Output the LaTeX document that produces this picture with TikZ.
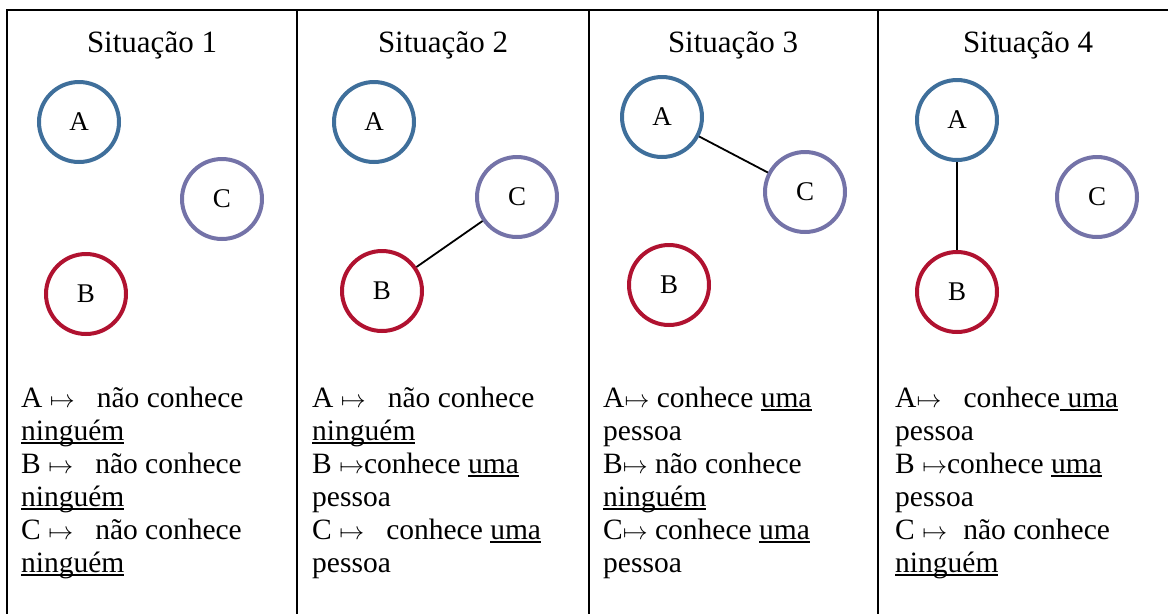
\documentclass[tikz,border=0pt]{standalone}
\usepackage{fontspec}
\setmainfont{Liberation Serif}
\usepackage{amsmath}
\usetikzlibrary{positioning}
\definecolor{azul}{RGB}{63,111,155}
\definecolor{lilas}{RGB}{116,115,168}
\definecolor{vermelho}{RGB}{176,18,48}
\newcommand{\vao}{\hspace{0.75em}}
% sublinhado rente a linha de base, como no Word
\newcommand{\sublinha}[1]{\setbox0\hbox{#1}\rlap{\rule[-4.3pt]{\wd0}{2pt}}\box0}

\begin{document}
\begin{tikzpicture}[x=1pt,y=-1pt,
   pessoa/.style={circle,draw,line width=4pt,minimum size=80pt,inner sep=0pt,
      font=\fontsize{27}{27}\selectfont},
   titulo/.style={anchor=base,font=\fontsize{31}{31}\selectfont},
   texto/.style={anchor=base west,align=left,inner sep=0pt,
      font=\fontsize{29.5}{33}\selectfont},
   liga/.style={line width=1.8pt}]
   \useasboundingbox (0,0) rectangle (1168,614);
   % grade
   \draw[line width=2pt] (7,10) -- (1168,10);
   \foreach \x in {7,297,589,878}
      \draw[line width=2pt] (\x,9) -- (\x,614);

   % titulos
   \node[titulo] (t_1) at (152,52)  {Situação 1};
   \node[titulo] (t_2) at (443,52)  {Situação 2};
   \node[titulo] (t_3) at (733,52)  {Situação 3};
   \node[titulo] (t_4) at (1028,52) {Situação 4};

   % situacao 1
   \node[pessoa,draw=azul]     (a_1) at (79,122)  {A};
   \node[pessoa,draw=lilas]    (c_1) at (222,199) {C};
   \node[pessoa,draw=vermelho] (b_1) at (86,294)  {B};
   % situacao 2
   \node[pessoa,draw=azul]     (a_2) at (374,122) {A};
   \node[pessoa,draw=lilas]    (c_2) at (517,197) {C};
   \node[pessoa,draw=vermelho] (b_2) at (382,291) {B};
   \draw[liga] (b_2) -- (c_2);
   % situacao 3
   \node[pessoa,draw=azul]     (a_3) at (662,117) {A};
   \node[pessoa,draw=lilas]    (c_3) at (805,192) {C};
   \node[pessoa,draw=vermelho] (b_3) at (669,285) {B};
   \draw[liga] (a_3) -- (c_3);
   % situacao 4
   \node[pessoa,draw=azul]     (a_4) at (957,120)  {A};
   \node[pessoa,draw=lilas]    (c_4) at (1097,197) {C};
   \node[pessoa,draw=vermelho] (b_4) at (957,292)  {B};
   \draw[liga] (a_4) -- (b_4);

   % legendas (ancoradas na ultima linha)
   \node[texto] (l_1) at (21,572) {A $\mapsto$\vao não conhece\\ \sublinha{ninguém}\\
      B $\mapsto$\vao não conhece\\ \sublinha{ninguém}\\
      C $\mapsto$\vao não conhece\\ \sublinha{ninguém}};
   \node[texto] (l_2) at (312,572) {A $\mapsto$\vao não conhece\\ \sublinha{ninguém}\\
      B $\mapsto$conhece \sublinha{uma}\\ pessoa\\
      C $\mapsto$\vao conhece \sublinha{uma}\\ pessoa};
   \node[texto] (l_3) at (603,572) {A$\mapsto$ conhece \sublinha{uma}\\ pessoa\\
      B$\mapsto$ não conhece\\ \sublinha{ninguém}\\
      C$\mapsto$ conhece \sublinha{uma}\\ pessoa};
   \node[texto] (l_4) at (895,572) {A$\mapsto$\hspace{0.5em} conhece\sublinha{ uma}\\ pessoa\\
      B $\mapsto$conhece \sublinha{uma}\\ pessoa\\
      C $\mapsto$\hspace{0.3em} não conhece\\ \sublinha{ninguém}};
\end{tikzpicture}
\end{document}
